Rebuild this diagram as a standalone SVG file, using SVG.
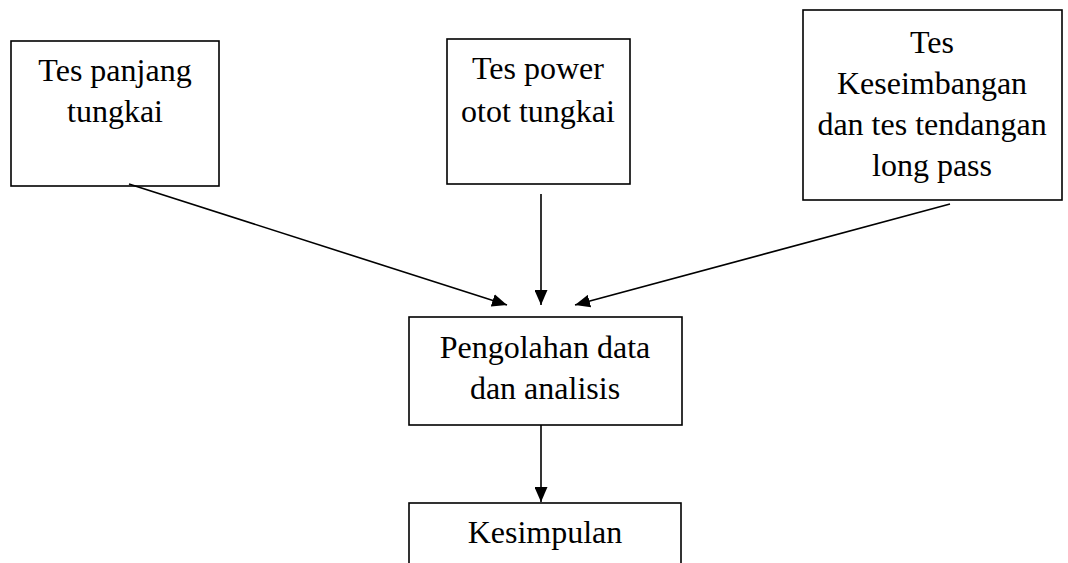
<svg xmlns="http://www.w3.org/2000/svg" width="1068" height="563" viewBox="0 0 1068 563">
<style>
.box{fill:#fff;stroke:#000;stroke-width:1.6}
.t{font-family:"Liberation Serif","Times New Roman",serif;font-size:32px;fill:#000;text-anchor:middle}
.c{stroke:#000;stroke-width:1.6;fill:none}
</style>
<defs>
<marker id="ah" markerWidth="15" markerHeight="13" refX="15" refY="6.5" orient="auto" markerUnits="userSpaceOnUse">
<path d="M0,0 L15,6.5 L0,13 Z" fill="#000"/>
</marker>
</defs>
<rect width="1068" height="563" fill="#fff"/>
<g id="n1"><rect class="box" x="11" y="41" width="208" height="145"/>
<text class="t" x="115" y="81">Tes panjang</text><text class="t" x="115" y="122">tungkai</text></g>
<g id="n2"><rect class="box" x="447" y="39" width="183" height="145"/>
<text class="t" x="538" y="79">Tes power</text><text class="t" x="538" y="122">otot tungkai</text></g>
<g id="n3"><rect class="box" x="803" y="10" width="259" height="190"/>
<text class="t" x="932" y="53">Tes</text><text class="t" x="932" y="94">Keseimbangan</text><text class="t" x="932" y="135">dan tes tendangan</text><text class="t" x="932" y="176">long pass</text></g>
<g id="n4"><rect class="box" x="409" y="317" width="273" height="108"/>
<text class="t" x="545" y="358">Pengolahan data</text><text class="t" x="545" y="399">dan analisis</text></g>
<g id="n5"><rect class="box" x="409" y="503" width="272" height="80"/>
<text class="t" x="545" y="543">Kesimpulan</text></g>
<g id="connectors">
<line class="c" x1="129" y1="184" x2="507" y2="305" marker-end="url(#ah)"/>
<line class="c" x1="541" y1="194" x2="541" y2="305" marker-end="url(#ah)"/>
<line class="c" x1="950" y1="204" x2="575" y2="305" marker-end="url(#ah)"/>
<line class="c" x1="541" y1="425" x2="541" y2="502" marker-end="url(#ah)"/>
</g>
</svg>
